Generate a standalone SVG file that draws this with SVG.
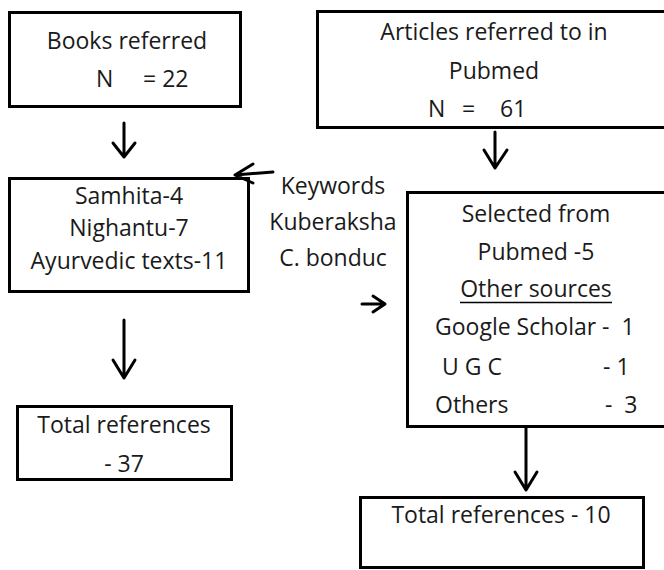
<svg xmlns="http://www.w3.org/2000/svg" width="664" height="570" viewBox="0 0 664 570">
<style>
  .box { fill: #ffffff; stroke: #000000; stroke-width: 3; }
  .t { font-family: "Open Sans", "Liberation Sans", sans-serif; font-size: 23px; fill: #1a1a1a; white-space: pre; }
  .c { text-anchor: middle; }
  .conn { fill: none; stroke: #000000; stroke-width: 3; stroke-linecap: round; stroke-linejoin: round; }
</style>
<rect x="0" y="0" width="664" height="570" fill="#ffffff"/>

<g id="books">
  <rect class="box" x="9.5" y="12.5" width="231" height="94"/>
  <text class="t c" x="127" y="49">Books referred</text>
  <text class="t" x="96" y="87">N</text>
  <text class="t" x="143" y="87">= 22</text>
</g>

<g id="articles">
  <rect class="box" x="317.5" y="11.5" width="360" height="116"/>
  <text class="t c" x="494" y="40">Articles referred to in</text>
  <text class="t c" x="494" y="79">Pubmed</text>
  <text class="t" x="428" y="117">N</text>
  <text class="t" x="462" y="117">=</text>
  <text class="t" x="500" y="117">61</text>
</g>

<g id="texts">
  <rect class="box" x="9.5" y="178.5" width="239" height="113"/>
  <text class="t c" x="129" y="204">Samhita-4</text>
  <text class="t c" x="129" y="236">Nighantu-7</text>
  <text class="t c" x="129" y="269">Ayurvedic texts-11</text>
</g>

<g id="keywords">
  <text class="t c" x="333" y="194">Keywords</text>
  <text class="t c" x="333" y="230">Kuberaksha</text>
  <text class="t c" x="333" y="266">C. bonduc</text>
</g>

<g id="selected">
  <rect class="box" x="407.5" y="192.5" width="270" height="234"/>
  <text class="t c" x="536" y="222">Selected from</text>
  <text class="t c" x="536" y="260">Pubmed -5</text>
  <text class="t c" x="536" y="297">Other sources</text>
  <line x1="460" y1="302.5" x2="612" y2="302.5" stroke="#000" stroke-width="1.5"/>
  <text class="t" x="435" y="335">Google Scholar -  1</text>
  <text class="t" x="442" y="375">U G C</text>
  <text class="t" x="603" y="375">- 1</text>
  <text class="t" x="435" y="413">Others</text>
  <text class="t" x="605" y="413">-  3</text>
</g>

<g id="total37">
  <rect class="box" x="17.5" y="406.5" width="214" height="73"/>
  <text class="t c" x="124" y="433">Total references</text>
  <text class="t c" x="124" y="472">- 37</text>
</g>

<g id="total10">
  <rect class="box" x="360.5" y="497.5" width="283" height="70"/>
  <text class="t c" x="501" y="523">Total references - 10</text>
</g>

<g id="connectors">
  <path class="conn" d="M124 123 V157 M113 143 L124 157 L135 143"/>
  <path class="conn" d="M124 320 V378 M113 360 L124 378 L135 360"/>
  <path class="conn" d="M495 132 V168 M484 150 L495 168 L507 150"/>
  <path class="conn" d="M526 428 V490 M515 472 L526 490 L537 472"/>
  <path class="conn" d="M273 172 L235 175 M253 164 L235 175 L253 183"/>
  <path class="conn" d="M362 304 H385 M373 296 L385 304 L373 312"/>
</g>
</svg>
